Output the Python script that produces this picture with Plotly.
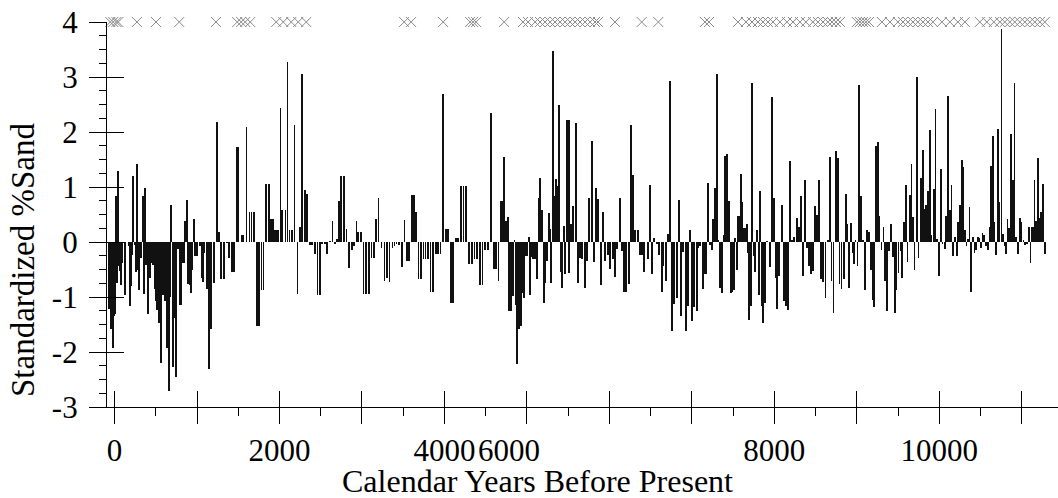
import plotly.graph_objects as go

# Calendar years BP of each sample and standardized %Sand
bar_years = [
    -64, -40, -24, -8, 9, 21, 29, 37, 49, 61, 73, 89, 122, 170, 182, 194, 211, 223, 243, 255,
    271, 283, 299, 316, 340, 352, 368, 384, 400, 417, 433, 449, 469, 485, 501, 518, 534, 550, 566, 586,
    607, 623, 639, 655, 671, 687, 703, 720, 744, 760, 776, 792, 808, 825, 841, 857, 869, 881, 893, 910,
    926, 942, 958, 970, 998, 1039, 1055, 1071, 1087, 1116, 1148, 1172, 1204, 1237, 1261, 1293, 1326, 1358, 1382, 1423,
    1447, 1479, 1503,
    1543, 1563, 1600, 1636, 1660, 1693, 1725, 1749, 1782, 1806, 1838, 1870, 1895, 1919, 1943, 1967, 1988, 2012, 2032, 2072,
    2097, 2121, 2149, 2182, 2218, 2246, 2274, 2311, 2335, 2371, 2396, 2428, 2460, 2489, 2517, 2549, 2581, 2614, 2642, 2670,
    2695, 2719, 2747, 2779, 2812, 2844, 2876, 2901, 2933, 2957, 2985, 3018, 3050, 3082, 3115, 3143,
    3172, 3200, 3237, 3273, 3301, 3334, 3370, 3394, 3419, 3451, 3483, 3516, 3544, 3568, 3604, 3633, 3657, 3685, 3713, 3746,
    3770, 3802, 3831, 3863, 3895, 3924, 3952, 3984, 4016, 4041, 4081, 4105, 4138, 4166, 4198, 4231, 4263, 4295, 4332, 4364,
    4396, 4433, 4461, 4497, 4530, 4566, 4598, 4622, 4655, 4683, 4703, 4723, 4744, 4768, 4788,
    4804, 4828, 4849, 4861, 4877, 4901, 4925, 4950, 4970, 4990, 5006, 5022, 5042, 5059, 5079, 5103, 5123, 5143, 5164, 5184,
    5204, 5220, 5240, 5265, 5277, 5297, 5313, 5333, 5349, 5366, 5382, 5394, 5410, 5430, 5446, 5463, 5483, 5499, 5507, 5515,
    5539, 5564, 5592, 5620, 5640, 5673, 5701, 5729, 5758, 5786, 5810, 5842, 5867, 5895, 5923, 5951, 5980, 6012, 6040, 6073,
    6097, 6125, 6149, 6182, 6206, 6234, 6258, 6291, 6315, 6343, 6376, 6400, 6424,
    6464, 6489, 6513, 6545, 6577, 6602, 6634, 6654, 6682, 6707, 6735, 6763, 6788, 6816, 6840, 6864, 6897, 6925, 6949, 6977,
    7006, 7030, 7058, 7078, 7103, 7131, 7159, 7175, 7196, 7220, 7244, 7260, 7276, 7301, 7317, 7337, 7353, 7369, 7385, 7406,
    7422, 7446, 7474, 7490, 7507, 7523, 7543, 7559, 7575, 7591, 7612, 7628, 7648, 7668, 7684, 7697, 7717, 7733, 7749, 7765,
    7789, 7810, 7826, 7846, 7866, 7886, 7915, 7943, 7967, 7991, 8016, 8036, 8056,
    8092, 8121, 8145, 8169, 8193, 8217, 8242, 8270, 8294, 8323, 8347, 8375, 8399, 8424, 8448, 8472, 8496, 8520, 8545, 8569,
    8593, 8621, 8646, 8670, 8694, 8718, 8743, 8767, 8791, 8815, 8840, 8864, 8880, 8904, 8925, 8949, 8965, 8985, 9009, 9030,
    9054, 9078, 9098, 9122, 9143, 9167, 9191, 9211, 9232, 9252, 9276, 9300, 9324, 9345, 9369, 9393, 9413, 9438, 9462, 9482,
    9506, 9530, 9551, 9575, 9595, 9615, 9640, 9664, 9684, 9700,
    9725, 9749, 9774, 9798, 9818, 9842, 9867, 9883, 9899, 9931, 9955, 9976, 9996, 10016, 10040, 10065, 10085, 10105, 10125, 10149,
    10170, 10190, 10210, 10230, 10250, 10271, 10291, 10311, 10331, 10351, 10367, 10388, 10408, 10428, 10448, 10465, 10485, 10509, 10525, 10545,
    10565, 10586, 10610, 10630, 10650, 10670, 10691, 10711, 10731, 10755, 10772, 10792, 10808, 10828, 10848, 10869, 10889, 10913, 10933, 10953,
    10978, 10998, 11022, 11042, 11062, 11087, 11107, 11127, 11143, 11155, 11175, 11196, 11216, 11236, 11256, 11281,
]

sand_std = [
    -1.22, -1.58, -1.93, -1.34, -1.30, 0.84, -0.75, 1.30, -0.44, -0.52, -0.79, -0.38, -0.96, -0.08, -1.17, -0.80, -0.23, 1.20, -0.05, -0.55,
    1.41, -0.50, -0.87, -0.29, 0.83, -0.95, 0.99, -0.41, -1.30, -0.44, -0.65, -0.38, -0.41, -0.85, -1.08, -1.23, -1.47, -1.26, -2.20, -0.96,
    -1.08, -0.67, -1.93, -2.71, -1.00, 0.68, -2.28, -1.38, -2.46, -0.13, -0.12, -1.14, -1.14, -0.39, -0.39, 0.38, 0.38, 0.76, -0.76, -0.78,
    -0.92, -0.50, 0.42, -0.25, -0.25, -0.08, -0.65, -0.73, -0.20, -0.85, -2.31, -1.59, -0.75, 2.19, 0.18, -0.68, -0.68, -0.01, -0.29, -0.55,
    -0.55, 1.73, 1.73,
    0.13, 0.13, 2.10, 0.54, 0.54, 0.54, -1.53, -1.53, -0.87, -0.87, 1.05, 1.05, 0.42, 0.42, 0.21, 0.21, 0.21, 2.44, 0.59, 0.59,
    3.28, 0.22, 0.22, 2.13, -0.95, 0.27, 3.05, 0.95, 0.88, -0.05, -0.05, -0.21, -0.96, -0.96, -0.03, -0.03, -0.21, 0.01, 0.38, -0.03,
    0.05, 0.75, 1.20, 1.20, 0.24, -0.47, -0.15, -0.08, 0.38, 0.19, 0.19, -0.95, -0.95, -0.95, -0.29, -0.29,
    0.42, 0.80, -0.11, -0.70, -0.65, -0.72, -0.11, -0.08, -0.03, -0.05, -0.45, 0.40, -0.35, -0.35, 0.86, 0.86, 0.55, -0.67, -0.67, -0.31,
    -0.31, -0.31, -0.90, -0.90, -0.21, -0.21, -0.21, 2.70, 0.24, 0.24, -1.11, -1.11, 0.07, 0.07, 1.02, 1.02, 1.02, -0.40, -0.40, -0.31,
    -0.31, -0.78, -0.78, -0.14, -0.14, 2.35, -0.49, -0.49, -0.70, 0.74, 0.74, 1.55, 0.39, 0.45, -1.26,
    -1.26, -0.98, 0.03, -1.14, -2.22, -1.59, -1.52, -0.93, -1.02, -0.26, -0.26, 0.09, -0.96, -0.27, -0.31, -0.31, -0.67, 0.80, 1.16, 0.58,
    -1.10, -0.75, -0.35, 0.52, 0.24, -0.75, 3.48, 0.84, 1.15, 0.59, 1.02, 2.50, -0.55, -0.84, 0.30, -0.59, 2.21, 0.83, -0.56, 2.21,
    0.32, 0.66, 2.16, -0.75, -0.29, -0.31, -0.84, -0.35, 0.80, 1.84, -0.37, 0.99, 0.78, -0.79, 0.54, -0.35, -0.23, -0.49, -0.31, -0.64,
    -0.12, 0.80, -0.17, -0.90, -0.90, -0.76, 2.13, 1.22, 0.21, 0.21, -0.24, -0.24, -0.55,
    -0.31, 1.03, -0.58, 0.07, -0.03, -0.23, -0.90, -0.43, -0.70, 0.15, 2.93, -1.62, -1.12, -1.02, 0.77, -1.35, -0.19, -1.62, -1.17, 0.21,
    -1.44, -1.18, -1.26, -0.10, -0.07, -0.85, -0.58, -0.58, 1.07, -0.05, -0.14, 0.41, 0.98, 3.06, 0.02, -0.84, -0.03, -0.93, 0.13, 1.56,
    1.60, 0.74, -0.93, -0.90, -0.88, 0.07, -0.50, 0.47, 0.47, 1.24, 0.73, 0.25, 0.25, 0.33, -0.20, -1.41, -1.16, 2.90, -0.25, -0.55,
    0.21, -0.96, 0.93, -1.16, -1.48, -1.10, 0.01, -0.45, 2.64, 0.80, -0.65, -1.22, -0.61,
    0.68, -1.08, -1.16, -1.23, 1.47, 0.04, 0.10, 0.44, 0.27, 0.83, -0.61, 1.13, -0.11, -0.44, -0.58, -0.53, 0.66, 0.50, 1.12, -0.67,
    -0.72, -1.02, 0.02, 1.54, -0.70, -1.29, 1.66, 1.53, -0.76, -0.85, -0.67, 0.87, 0.33, -0.84, 0.35, -0.20, -0.40, 0.04, -0.43, 2.86,
    0.83, 0.03, -0.87, 0.21, 0.19, -0.50, -1.05, -1.18, 1.74, 1.82, 0.47, -0.14, 0.27, -0.70, -1.25, -0.16, 0.33, -0.28, -1.29, -0.87,
    -0.56, -0.17, -0.65, 0.37, 1.04, -0.37, 0.86, 1.41, 0.45, -0.50,
    3.00, -0.29, 1.17, 1.68, 0.60, 0.67, 0.92, 2.03, 0.13, 0.96, 2.42, 0.06, -0.62, 1.32, -0.03, -0.12, 0.47, 2.65, 0.59, 1.04,
    -0.25, 0.09, -0.25, 0.37, 0.68, 1.50, 1.36, 0.21, -0.08, 0.06, 0.64, -0.90, 0.10, -0.20, -0.14, 0.09, 0.07, -0.11, 0.16, 0.13,
    -0.07, -0.14, 0.27, 1.38, 1.92, 0.36, -0.24, 2.06, 0.73, 3.87, 0.15, -0.07, -0.22, 0.41, 0.25, 1.97, 1.13, 2.90, 0.10, -0.21,
    0.44, 0.36, 0.03, -0.05, -0.02, 0.28, -0.38, 0.28, 0.28, 1.12, 0.38, 1.53, 0.44, 0.55, 1.05, -0.21,
]

# Years flagged with a cross along the top of the plot
cross_years = [
    -52, -16, 21, 45, 271, 502, 784, 1229, 1487, 1535, 1584, 1645,
    1960, 2045, 2142, 2227, 2324, 3511, 3596, 3984, 4311, 4348, 4384, 4724,
    4953, 5014, 5099, 5159, 5220, 5281, 5341, 5402, 5463, 5523, 5584, 5644, 5705, 5766, 5826, 5862,
    6068, 6392, 6593, 7159, 7208,
    7559, 7656, 7729, 7802, 7862, 7923, 7983, 8068, 8153, 8226, 8311, 8383, 8468, 8529, 8590, 8650, 8699, 8747, 8796,
    9001, 9038, 9074, 9110, 9147,
    9305, 9402, 9499, 9560, 9620, 9681, 9741, 9802, 9863, 9923, 10032, 10129, 10226, 10311,
    10492, 10577, 10662, 10735, 10795, 10856, 10916, 10977, 11038, 11098, 11159, 11220, 11280,
]
cross_level = 4

x_major = list(range(0, 12000, 1000))
x_labels = ["0", "", "2000", "", "4000", "", "", "", "8000", "", "10000", ""]
x_minor = list(range(500, 12000, 1000))
y_major = [-3, -2, -1, 0, 1, 2, 3, 4]
y_labels = ["-3", "-2", "-1", "0", "1", "2", "3", "4"]

FONT = "Liberation Serif, Times New Roman, serif"
XR = [-92, 11440]
YR = [-3, 4]

fig = go.Figure()
fig.add_trace(go.Bar(
    x=bar_years, y=sand_std, width=11,
    marker=dict(color="#111111", line=dict(width=0)),
    showlegend=False, hoverinfo="x+y",
))
fig.add_trace(go.Scatter(
    x=cross_years, y=[cross_level] * len(cross_years), mode="markers",
    marker=dict(symbol="x-thin-open", size=10, color="#8a8a8a",
                line=dict(color="#8a8a8a", width=1)),
    cliponaxis=False, showlegend=False,
))
# invisible trace to carry the overlaid tick axes (ticks crossing the axis lines)
fig.add_trace(go.Scatter(x=[XR[0]], y=[YR[0]], xaxis="x2", yaxis="y2",
                         mode="markers", marker=dict(opacity=0), showlegend=False, hoverinfo="skip"))

fig.update_layout(
    template="none",
    width=1058, height=498,
    margin=dict(l=107, r=0, t=22, b=91),
    paper_bgcolor="white", plot_bgcolor="white",
    font=dict(family=FONT, size=31, color="black"),
    bargap=0,
    xaxis=dict(
        range=XR, showgrid=False, zeroline=False,
        showline=True, linecolor="black", linewidth=1.2,
        tickmode="array", tickvals=x_major, ticktext=x_labels,
        ticks="outside", ticklen=16, tickwidth=1.2, tickcolor="black",
        minor=dict(tickmode="array", tickvals=x_minor, ticks="outside", ticklen=8,
                   tickwidth=1.2, tickcolor="black", showgrid=False),
        tickfont=dict(size=31, color="black"),
    ),
    yaxis=dict(
        range=YR, showgrid=False, zeroline=False,
        showline=True, linecolor="black", linewidth=1.2,
        tickmode="array", tickvals=y_major, ticktext=y_labels,
        ticks="outside", ticklen=17, tickwidth=1.2, tickcolor="black",
        minor=dict(dtick=0.25, tick0=0, ticks="outside", ticklen=7,
                   tickwidth=1.2, tickcolor="black", showgrid=False),
        tickfont=dict(size=31, color="black"),
        ticklabelstandoff=5,
    ),
    xaxis2=dict(
        range=XR, overlaying="x", anchor="y2", side="bottom",
        showgrid=False, zeroline=False, showline=False, showticklabels=False,
        tickmode="array", tickvals=x_major,
        ticks="inside", ticklen=16, tickwidth=1.2, tickcolor="black",
    ),
    yaxis2=dict(
        range=YR, overlaying="y", anchor="x2", side="left",
        showgrid=False, zeroline=False, showline=False, showticklabels=False,
        tickmode="array", tickvals=y_major,
        ticks="inside", ticklen=17, tickwidth=1.2, tickcolor="black",
    ),
    annotations=[
        dict(text="6000", x=4780, xref="x", y=0, yref="paper",
             yanchor="top", xanchor="center", yshift=-24, showarrow=False,
             font=dict(size=31, family=FONT, color="black")),
        dict(text="Calendar Years Before Present", x=0.4527, xref="paper",
             y=0, yref="paper", yanchor="top", xanchor="center", yshift=-54,
             showarrow=False, font=dict(size=32, family=FONT, color="black")),
        dict(text="Standardized %Sand", x=(23 - 107) / 951, xref="paper",
             y=(498 - 91 - 260) / 385, yref="paper", xanchor="center", yanchor="middle",
             showarrow=False, textangle=-90,
             font=dict(size=33, family=FONT, color="black")),
    ],
)

fig.write_html("out.html")
